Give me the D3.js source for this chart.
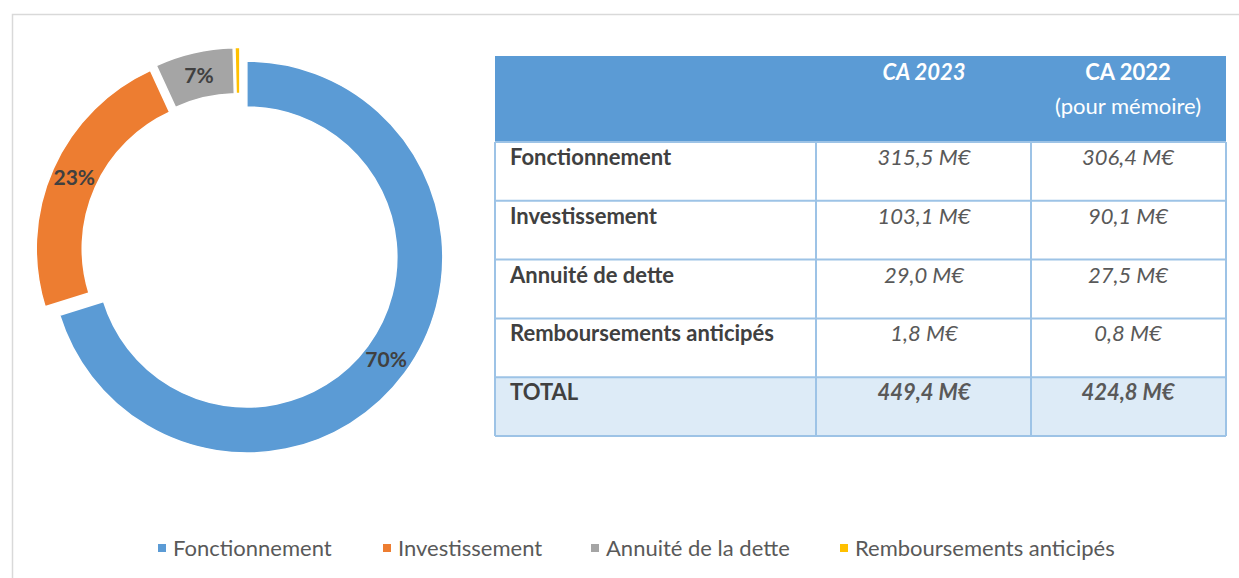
<!DOCTYPE html>
<html>
<head>
<meta charset="utf-8">
<script src="https://cdn.jsdelivr.net/npm/d3@7"></script>
<style>
  body { margin: 0; background: #fff; }
  text { font-family: Lato, "Open Sans", sans-serif; }
</style>
</head>
<body>
<svg></svg>
<script>
// chart data
var categories = ["Fonctionnement", "Investissement", "Annuité de la dette", "Remboursements anticipés"];
var values2023 = [315.5, 103.1, 29.0, 1.8];
var pctLabels = ["70%", "23%", "7%", ""];   // as printed on the chart
var colors = ["#5B9BD5", "#ED7D31", "#A5A5A5", "#FFC000"];

// table data
var rowLabels = ["Fonctionnement", "Investissement", "Annuité de dette", "Remboursements anticipés", "TOTAL"];
var col2023 = ["315,5 M€", "103,1 M€", "29,0 M€", "1,8 M€", "449,4 M€"];
var col2022 = ["306,4 M€", "90,1 M€", "27,5 M€", "0,8 M€", "424,8 M€"];

var svgWidth = 1239, svgHeight = 578;

var svg = d3.select("svg")
    .attr("width", svgWidth)
    .attr("height", svgHeight);

// outer frame
svg.append("rect")
    .attr("x", 12.5).attr("y", 14.5)
    .attr("width", 1240).attr("height", 600)
    .attr("fill", "#fff")
    .attr("stroke", "#D9D9D9")
    .attr("stroke-width", 1.5);

// donut
var cx = 240, cy = 252, outerR = 196, innerR = 150, explode = 8.5;

var pie = d3.pie().sort(null).value(function(d) { return d; });
var arc = d3.arc().innerRadius(innerR).outerRadius(outerR);
var labelArc = d3.arc().innerRadius(173).outerRadius(173);

function offset(d) {
    var a = (d.startAngle + d.endAngle) / 2;
    return [Math.sin(a) * explode, -Math.cos(a) * explode];
}

var slices = svg.append("g")
    .attr("transform", "translate(" + cx + "," + cy + ")")
    .selectAll("g")
    .data(pie(values2023))
    .enter()
    .append("g")
    .attr("transform", function(d) { return "translate(" + offset(d) + ")"; });

slices.append("path")
    .attr("d", arc)
    .attr("fill", function(d, i) { return colors[i]; })
    .attr("stroke", "#fff")
    .attr("stroke-width", 1.5);

slices.append("text")
    .attr("transform", function(d) { return "translate(" + labelArc.centroid(d) + ")"; })
    .attr("text-anchor", "middle")
    .attr("dy", "0.35em")
    .attr("font-size", 21)
    .attr("font-weight", "bold")
    .attr("fill", "#404040")
    .text(function(d, i) { return pctLabels[i]; });

// table
var colX = [495, 816, 1031, 1226];
var headTop = 56, headBottom = 142;
var rowY = d3.scaleLinear().domain([0, rowLabels.length]).range([headBottom, 436]);
var rowH = rowY(1) - rowY(0);
var table = svg.append("g");

table.append("rect")
    .attr("x", colX[0]).attr("y", headTop)
    .attr("width", colX[3] - colX[0]).attr("height", headBottom - headTop)
    .attr("fill", "#5B9BD5");

table.append("rect")
    .attr("x", colX[0]).attr("y", rowY(4))
    .attr("width", colX[3] - colX[0]).attr("height", rowH)
    .attr("fill", "#DDEBF7");

// grid lines
var lineColor = "#9DC3E6";
table.selectAll("line.h")
    .data(d3.range(0, rowLabels.length + 1))
    .enter()
    .append("line")
    .attr("x1", colX[0]).attr("x2", colX[3])
    .attr("y1", function(d) { return rowY(d); })
    .attr("y2", function(d) { return rowY(d); })
    .attr("stroke", lineColor).attr("stroke-width", 2);

table.selectAll("line.v")
    .data(colX)
    .enter()
    .append("line")
    .attr("x1", function(d) { return d; }).attr("x2", function(d) { return d; })
    .attr("y1", headBottom).attr("y2", rowY(rowLabels.length))
    .attr("stroke", lineColor).attr("stroke-width", 2);

// header texts
var mid1 = 924, mid2 = 1128;
table.append("text")
    .attr("x", mid1).attr("y", 80)
    .attr("text-anchor", "middle")
    .attr("font-size", 22).attr("font-weight", "bold").attr("font-style", "italic")
    .attr("fill", "#fff")
    .text("CA 2023");
table.append("text")
    .attr("x", mid2).attr("y", 80)
    .attr("text-anchor", "middle")
    .attr("font-size", 22).attr("font-weight", "bold")
    .attr("fill", "#fff")
    .text("CA 2022");
table.append("text")
    .attr("x", mid2).attr("y", 114)
    .attr("text-anchor", "middle")
    .attr("font-size", 22)
    .attr("fill", "#fff")
    .text("(pour mémoire)");

// body texts
var rows = table.selectAll("g.row")
    .data(rowLabels)
    .enter()
    .append("g")
    .attr("transform", function(d, i) { return "translate(0," + (rowY(i) + 23) + ")"; });

rows.append("text")
    .attr("x", 510)
    .attr("font-size", 22).attr("font-weight", "bold")
    .attr("fill", "#404040")
    .text(function(d) { return d; });

rows.append("text")
    .attr("x", mid1)
    .attr("text-anchor", "middle")
    .attr("font-size", 22).attr("font-style", "italic")
    .attr("font-weight", function(d, i) { return i === 4 ? "bold" : "normal"; })
    .attr("fill", "#595959")
    .text(function(d, i) { return col2023[i]; });

rows.append("text")
    .attr("x", mid2)
    .attr("text-anchor", "middle")
    .attr("font-size", 22).attr("font-style", "italic")
    .attr("font-weight", function(d, i) { return i === 4 ? "bold" : "normal"; })
    .attr("fill", "#595959")
    .text(function(d, i) { return col2022[i]; });

// legend
var legendX = [158, 383, 591, 840];
var legend = svg.selectAll("g.legend")
    .data(categories)
    .enter()
    .append("g")
    .attr("transform", function(d, i) { return "translate(" + legendX[i] + ",548)"; });

legend.append("rect")
    .attr("x", 0).attr("y", -4)
    .attr("width", 8).attr("height", 8)
    .attr("fill", function(d, i) { return colors[i]; });

legend.append("text")
    .attr("x", 15)
    .attr("dy", "0.35em")
    .attr("font-size", 22)
    .attr("fill", "#595959")
    .text(function(d) { return d; });
</script>
</body>
</html>
